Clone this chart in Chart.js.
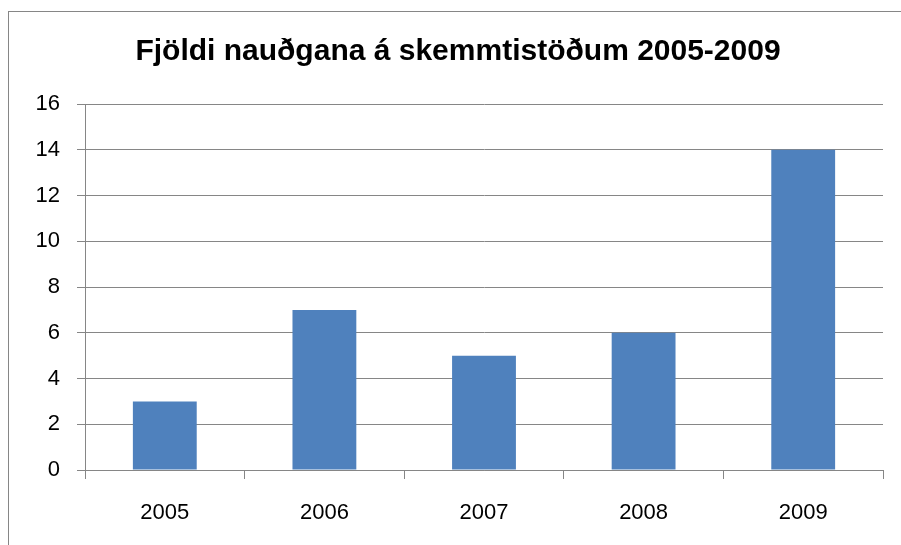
<!DOCTYPE html>
<html>
<head>
<meta charset="utf-8">
<script src="https://cdn.jsdelivr.net/npm/chart.js@4"></script>
<style>
  html, body { margin: 0; padding: 0; background: #fff; }
  #wrap { position: relative; width: 901px; height: 545px; }
  #frame { position: absolute; left: 8px; top: 11px; width: 900px; height: 540px;
           border-left: 1px solid #868686; border-top: 1px solid #868686; }
  canvas { position: absolute; left: 0; top: 0; }
</style>
</head>
<body>
<div id="wrap">
  <div id="frame"></div>
  <canvas id="mainChart" width="901" height="545"></canvas>
</div>
<script>
const years = ['2005', '2006', '2007', '2008', '2009']
const counts = [3, 7, 5, 6, 14]
const yTicks = [0, 2, 4, 6, 8, 10, 12, 14, 16]
const chartTitle = 'Fjöldi nauðgana á skemmtistöðum 2005-2009'

const gray = '#868686'
const fontFamily = '"Liberation Sans", Arial, sans-serif'

const ctx = document.getElementById('mainChart').getContext('2d')
let mainChart = new Chart(ctx, {
    type: 'bar',
    data: {
        labels: years,
        datasets: [{
            data: counts,
            backgroundColor: '#4F81BD',
            borderWidth: 0,
            barPercentage: 0.4,
            categoryPercentage: 1
        }]
    },
    options: {
        responsive: false,
        animation: false,
        // left padding shifts the title centre to match, y axis width makes up the rest
        layout: { padding: { left: 33, right: 18, top: 0, bottom: 0 } },
        plugins: {
            legend: { display: false },
            tooltip: { enabled: false },
            title: {
                display: true,
                text: chartTitle,
                color: '#000',
                font: { family: fontFamily, size: 30, weight: 'bold', lineHeight: 1.2 },
                padding: { top: 34, bottom: 34 }
            }
        },
        scales: {
            x: {
                grid: { display: true, drawOnChartArea: false, drawTicks: true, tickLength: 9, offset: true, color: gray, lineWidth: 1 },
                border: { display: true, color: gray, width: 1 },
                ticks: { color: '#000', font: { family: fontFamily, size: 22 }, padding: 21 },
                afterFit: scale => { scale.height = 75 }
            },
            y: {
                min: 0,
                max: 16,
                afterBuildTicks: scale => { scale.ticks = yTicks.map(v => ({ value: v })) },
                grid: { color: gray, lineWidth: 1, tickLength: 8, drawTicks: true },
                border: { display: true, color: gray, width: 1 },
                ticks: { color: '#000', font: { family: fontFamily, size: 22 }, padding: 17 },
                afterFit: scale => { scale.width = 52 }
            }
        }
    }
})
</script>
</body>
</html>
